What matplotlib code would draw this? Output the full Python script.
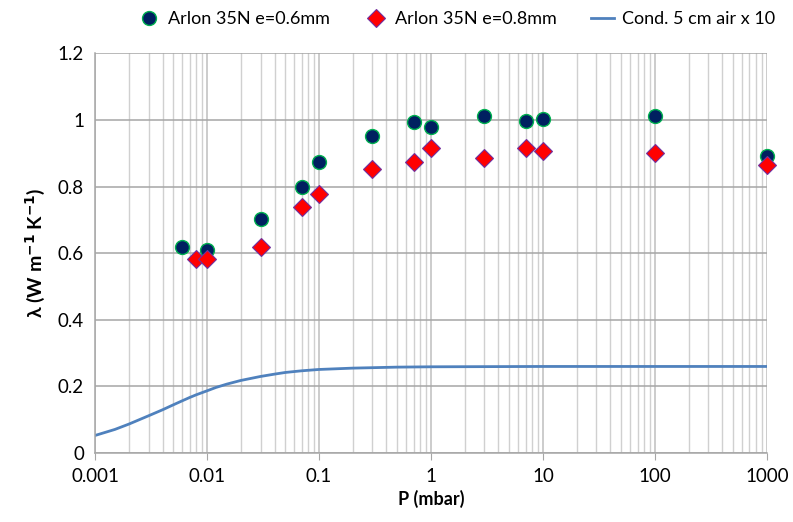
import matplotlib
matplotlib.use("Agg")
import matplotlib.pyplot as plt
from matplotlib.ticker import FixedLocator, LogLocator, NullFormatter, FixedFormatter

plt.rcParams['font.family'] = ['Lato', 'DejaVu Sans']

p06 = [0.006, 0.01, 0.03, 0.07, 0.1, 0.3, 0.7, 1, 3, 7, 10, 100, 1000]
k06 = [0.619, 0.610, 0.703, 0.799, 0.874, 0.952, 0.994, 0.979, 1.012, 0.997, 1.003, 1.012, 0.892]

p08 = [0.008, 0.01, 0.03, 0.07, 0.1, 0.3, 0.7, 1, 3, 7, 10, 100, 1000]
k08 = [0.583, 0.583, 0.619, 0.739, 0.778, 0.853, 0.874, 0.916, 0.886, 0.916, 0.907, 0.901, 0.865]

p_air = [0.001, 0.0015, 0.002, 0.003, 0.004, 0.005, 0.006, 0.007, 0.008, 0.01, 0.012,
         0.015, 0.02, 0.03, 0.04, 0.05, 0.07, 0.1, 0.2, 0.5, 1, 10, 100, 1000]
k_air = [0.053, 0.071, 0.087, 0.112, 0.130, 0.145, 0.157, 0.167, 0.175, 0.187, 0.197,
         0.207, 0.218, 0.230, 0.237, 0.242, 0.247, 0.251, 0.255, 0.258, 0.259, 0.260,
         0.260, 0.260]

xticks = [0.001, 0.01, 0.1, 1, 10, 100, 1000]
xticklabels = ['0.001', '0.01', '0.1', '1', '10', '100', '1000']
yticks = [0, 0.2, 0.4, 0.6, 0.8, 1.0, 1.2]
yticklabels = ['0', '0.2', '0.4', '0.6', '0.8', '1', '1.2']

fig = plt.figure(figsize=(7.93, 5.22), dpi=100)
ax = fig.add_axes([0.12, 0.132, 0.847, 0.766])

ax.plot(p_air, k_air, color='#4F81BD', lw=2, label='Cond. 5 cm air x 10', zorder=2)
ax.plot(p06, k06, 'o', ms=10, mfc='#002060', mec='#00B050', mew=1,
        label='Arlon 35N e=0.6mm', zorder=3, clip_on=False)
ax.plot(p08, k08, 'D', ms=9, mfc='#FF0000', mec='#7030A0', mew=0.8,
        label='Arlon 35N e=0.8mm', zorder=4, clip_on=False)

ax.set_xscale('log')
ax.set_xlim(0.001, 1000)
ax.set_ylim(0, 1.2)
ax.xaxis.set_major_locator(FixedLocator(xticks))
ax.xaxis.set_major_formatter(FixedFormatter(xticklabels))
ax.xaxis.set_minor_locator(LogLocator(base=10, subs=range(2, 10), numticks=20))
ax.xaxis.set_minor_formatter(NullFormatter())
ax.yaxis.set_major_locator(FixedLocator(yticks))
ax.yaxis.set_major_formatter(FixedFormatter(yticklabels))

ax.grid(True, which='major', axis='y', color='#A6A6A6', lw=1.1, zorder=0)
ax.grid(True, which='major', axis='x', color='#BFBFBF', lw=1.1, zorder=0)
ax.grid(True, which='minor', axis='x', color='#D0D0D0', lw=1.0, zorder=0)
ax.set_axisbelow(True)

for s in ['top', 'right']:
    ax.spines[s].set_visible(False)
for s in ['left', 'bottom']:
    ax.spines[s].set_color('#A6A6A6')
    ax.spines[s].set_linewidth(1.1)

ax.tick_params(axis='x', which='major', direction='out', length=5, color='#A6A6A6',
               labelsize=13.5, pad=6)
ax.tick_params(axis='x', which='minor', length=0)
ax.tick_params(axis='y', which='major', length=0, labelsize=13.5, pad=8)

ax.set_xlabel('P (mbar)', fontsize=13, fontweight='bold', labelpad=3)
ax.set_ylabel(r'λ (W m$^{\mathbf{-1}}$ K$^{\mathbf{-1}}$)', fontsize=14,
              fontweight='bold', labelpad=8)

h, l = ax.get_legend_handles_labels()
order = [1, 2, 0]
fig.legend([h[i] for i in order], [l[i] for i in order], loc='upper center',
           bbox_to_anchor=(0.575, 1.01), ncol=3, frameon=False, fontsize=13,
           handlelength=1.3, handletextpad=0.4, columnspacing=1.9)

fig.savefig('out.png', dpi=100)
